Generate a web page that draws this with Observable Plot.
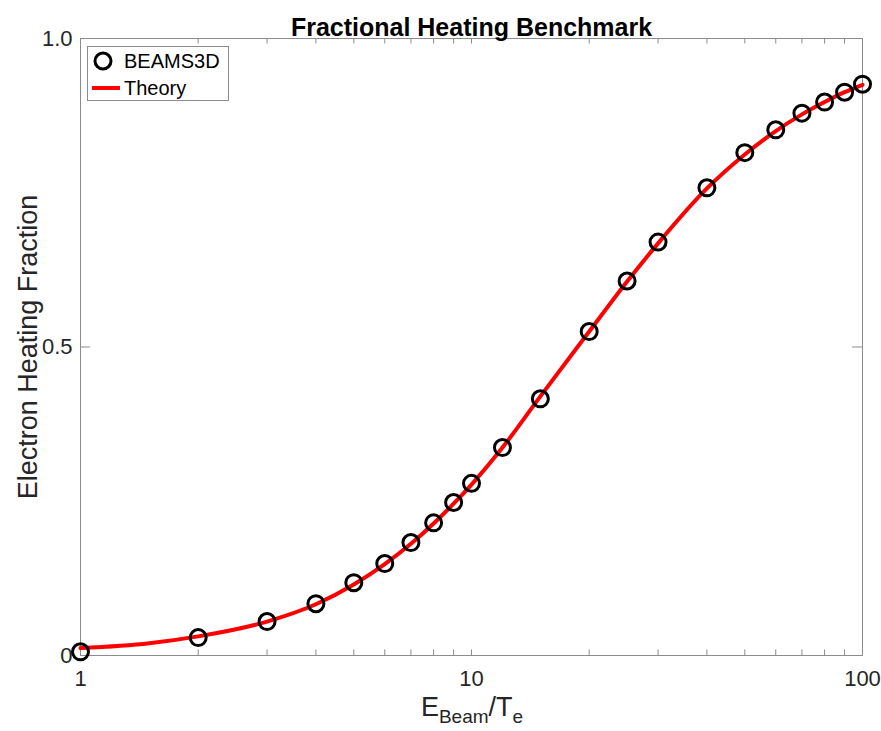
<!DOCTYPE html>
<html><head><meta charset="utf-8">
<script src="https://cdn.jsdelivr.net/npm/d3@7"></script>
<script src="https://cdn.jsdelivr.net/npm/@observablehq/plot@0.6"></script>
<style>body{margin:0;background:#fff;font-family:"Liberation Sans",Arial,sans-serif}</style>
</head><body><div id="chart"></div>
<script>
const title = "Fractional Heating Benchmark";
const yLabel = "Electron Heating Fraction";
const beamsX = [1,2,3,4,5,6,7,8,9,10,12,15,20,25,30,40,50,60,70,80,90,100];
const beamsY = [0.006,0.029,0.055,0.084,0.118,0.149,0.183,0.215,0.248,0.279,0.337,0.416,0.525,0.607,0.670,0.758,0.815,0.852,0.879,0.897,0.913,0.926];
const theoryX = [1,1.5,2,3,4,5,6,7,8,9,10,12,15,20,25,30,40,50,60,70,80,90,100];
const theoryY = [0.012,0.020,0.031,0.055,0.083,0.115,0.148,0.181,0.214,0.246,0.277,0.337,0.420,0.525,0.606,0.668,0.757,0.812,0.850,0.877,0.897,0.913,0.925];
const xMajor = [1,10,100];
const xMinor = [2,3,4,5,6,7,8,9,20,30,40,50,60,70,80,90];
const yTicks = [0,0.5,1];
const yTickLabels = ["0","0.5","1.0"];

const beams = beamsX.map((x,i)=>({x, y: beamsY[i]}));
const theory = theoryX.map((x,i)=>({x, y: theoryY[i]}));
const frameColor = "#8c8c8c";
const tickLen = 0.009;

const plot = Plot.plot({
  width: 881, height: 731,
  marginLeft: 80, marginRight: 19, marginTop: 38, marginBottom: 76,
  style: {fontFamily: '"Liberation Sans", Arial, sans-serif', background: "#fff", overflow: "visible"},
  x: {type: "log", domain: [1,100]},
  y: {domain: [0,1]},
  marks: [
    Plot.frame({stroke: frameColor, strokeWidth: 1}),
    Plot.ruleX([...xMajor, ...xMinor], {x: d=>d, y1: 0, y2: tickLen, stroke: frameColor}),
    Plot.ruleX([...xMajor, ...xMinor], {x: d=>d, y1: 1, y2: 1 - tickLen, stroke: frameColor}),
    Plot.ruleY(yTicks, {y: d=>d, x1: 1, x2: 1.06, stroke: frameColor}),
    Plot.ruleY(yTicks, {y: d=>d, x1: 100, x2: 100/1.06, stroke: frameColor}),
    Plot.axisX({ticks: xMajor, tickFormat: d=>String(d), tickSize: 0, tickPadding: 15, fontSize: 22, color: "#262626", label: null}),
    Plot.axisY({ticks: yTicks, tickFormat: (d,i)=>yTickLabels[i], tickSize: 0, tickPadding: 8, fontSize: 22, color: "#262626", label: null}),
    Plot.line(theory, {x: "x", y: "y", stroke: "#ff0000", strokeWidth: 4, curve: "monotone-x"}),
    Plot.dot(beams, {x: "x", y: "y", r: 8, stroke: "#000", strokeWidth: 3, fill: "none"}),
    Plot.text([title], {frameAnchor: "top", dy: -20, fontSize: 25, fontWeight: "bold", fill: "#000"}),
    Plot.text([yLabel], {frameAnchor: "left", textAnchor: "middle", dx: -52, rotate: -90, fontSize: 27, fill: "#262626"})
  ]
});
document.getElementById("chart").appendChild(plot);

const svg = d3.select(plot);
const xl = svg.append("text").attr("x", 472).attr("y", 716).attr("text-anchor","middle")
  .attr("font-size", 27).attr("fill", "#262626");
xl.append("tspan").text("E");
xl.append("tspan").attr("font-size", 19).attr("dy", 7).text("Beam");
xl.append("tspan").attr("dy", -7).text("/T");
xl.append("tspan").attr("font-size", 19).attr("dy", 7).text("e");

const lg = svg.append("g").attr("text-anchor", "start");
lg.append("rect").attr("x", 87.5).attr("y", 46.5).attr("width", 141).attr("height", 54)
  .attr("fill", "#fff").attr("stroke", frameColor);
lg.append("circle").attr("cx", 103).attr("cy", 61).attr("r", 8).attr("fill","none").attr("stroke","#000").attr("stroke-width",3);
lg.append("line").attr("x1", 92).attr("x2", 120).attr("y1", 88).attr("y2", 88).attr("stroke","#ff0000").attr("stroke-width",4);
lg.append("text").attr("x", 124).attr("y", 68).attr("font-size", 20).attr("fill","#000").text("BEAMS3D");
lg.append("text").attr("x", 124).attr("y", 95).attr("font-size", 20).attr("fill","#000").text("Theory");
</script></body></html>
